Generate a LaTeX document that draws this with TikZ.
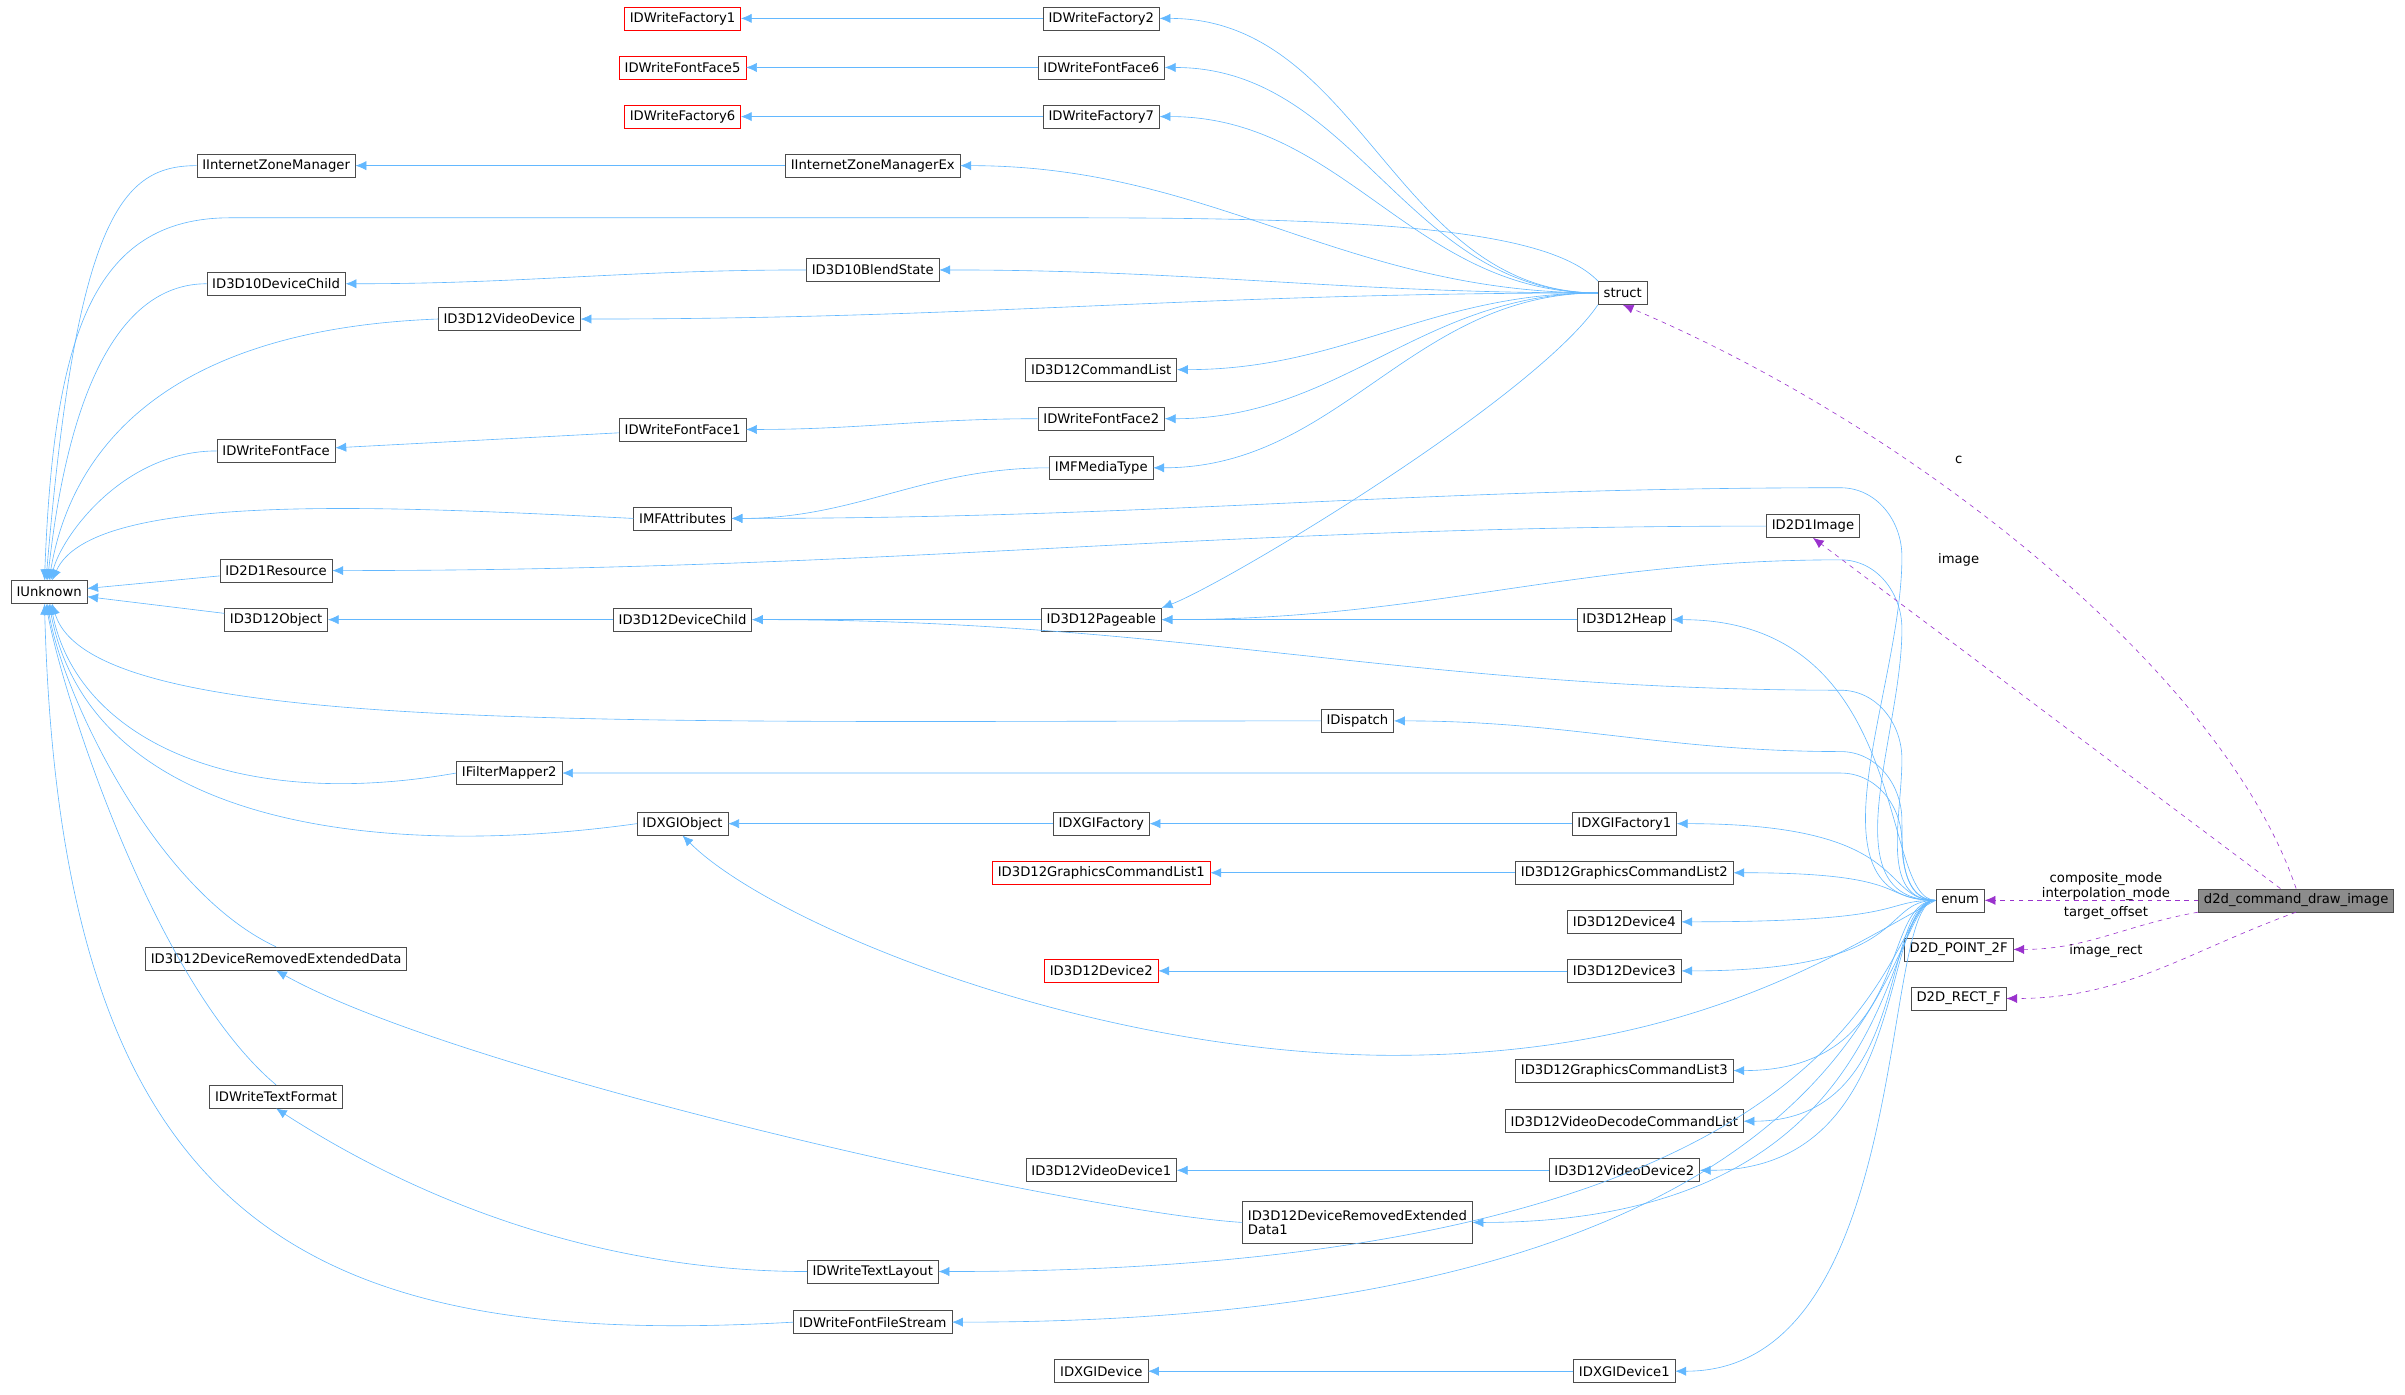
\documentclass[tikz,border=0pt]{standalone}
\usepackage{fontspec}
\setmainfont{DejaVu Sans}
\usetikzlibrary{arrows.meta}
\definecolor{eb}{HTML}{63B8FF}
\definecolor{pp}{HTML}{9A32CD}
\begin{document}
\begin{tikzpicture}[x=1pt,y=-1pt,
 box/.style={draw=black!70,fill=white,inner xsep=3.5pt,inner ysep=0pt,minimum height=15pt,font=\fontsize{8.6}{9}\selectfont},
 rbox/.style={box,draw=red},
 inh/.style={draw=eb,-{Latex[length=7pt,width=6pt]}},
 mem/.style={draw=pp,dashed,-{Latex[length=7pt,width=6pt]}},
 lab/.style={font=\fontsize{8.6}{9}\selectfont,align=center}]
\useasboundingbox (0,0) rectangle (1568,909);
\coordinate (cx) at (1248,0);
\node[rbox] (F1) at (445,12) {IDWriteFactory1};
\node[box] (F2) at (718,12) {IDWriteFactory2};
\node[rbox] (FF5) at (445,44) {IDWriteFontFace5};
\node[box] (FF6) at (718,44) {IDWriteFontFace6};
\node[rbox] (F6) at (445,76) {IDWriteFactory6};
\node[box] (F7) at (718,76) {IDWriteFactory7};
\node[box] (IZM) at (180,108) {IInternetZoneManager};
\node[box] (IZMX) at (569,108) {IInternetZoneManagerEx};
\node[box] (D10C) at (180,185) {ID3D10DeviceChild};
\node[box] (D10B) at (569,176) {ID3D10BlendState};
\node[box] (VD) at (332,208) {ID3D12VideoDevice};
\node[box] (struct) at (1058,191) {struct};
\node[box] (CL) at (718,241) {ID3D12CommandList};
\node[box] (FF2) at (718,273) {IDWriteFontFace2};
\node[box] (FF) at (180,294) {IDWriteFontFace};
\node[box] (FF1) at (445,280) {IDWriteFontFace1};
\node[box] (MT) at (718,305) {IMFMediaType};
\node[box] (MA) at (445,338) {IMFAttributes};
\node[box] (Img) at (1182,343) {ID2D1Image};
\node[box] (IU) at (32,386) {IUnknown};
\node[box] (Res) at (180,372) {ID2D1Resource};
\node[box] (Obj) at (180,404) {ID3D12Object};
\node[box] (DC) at (445,404) {ID3D12DeviceChild};
\node[box] (Pg) at (718,404) {ID3D12Pageable};
\node[box] (Heap) at (1059,404) {ID3D12Heap};
\node[box] (Disp) at (885,470) {IDispatch};
\node[box] (FM) at (332,504) {IFilterMapper2};
\node[box] (XO) at (445,537) {IDXGIObject};
\node[box] (XF) at (718,537) {IDXGIFactory};
\node[box] (XF1) at (1059,537) {IDXGIFactory1};
\node[rbox] (GCL1) at (718,569) {ID3D12GraphicsCommandList1};
\node[box] (GCL2) at (1059,569) {ID3D12GraphicsCommandList2};
\node[box] (enum) at (1278,587) {enum};
\node[box,fill=black!45] (d2d) at (1497,587) {d2d\_command\_draw\_image};
\node[box] (Dev4) at (1059,601) {ID3D12Device4};
\node[box] (P2F) at (1277,619) {D2D\_POINT\_2F};
\node[box] (DRED) at (180,625) {ID3D12DeviceRemovedExtendedData};
\node[box] (RF) at (1277,651) {D2D\_RECT\_F};
\node[rbox] (Dev2) at (718,633) {ID3D12Device2};
\node[box] (Dev3) at (1059,633) {ID3D12Device3};
\node[box] (GCL3) at (1059,698) {ID3D12GraphicsCommandList3};
\node[box] (VDCL) at (1059,731) {ID3D12VideoDecodeCommandList};
\node[box] (TF) at (180,715) {IDWriteTextFormat};
\node[box] (VD1) at (718,763) {ID3D12VideoDevice1};
\node[box] (VD2) at (1059,763) {ID3D12VideoDevice2};
\node[box,minimum height=27pt,align=left,font=\fontsize{8.6}{9.5}\selectfont] (DRED1) at (885,797) {ID3D12DeviceRemovedExtended\\Data1};
\node[box] (TL) at (569,829) {IDWriteTextLayout};
\node[box] (FS) at (569,862) {IDWriteFontFileStream};
\node[box] (XD) at (718,894) {IDXGIDevice};
\node[box] (XD1) at (1059,894) {IDXGIDevice1};
% simple straight inheritance
\foreach \d/\b in {F2/F1,FF6/FF5,F7/F6,IZMX/IZM,FF1/FF,Pg/DC,Heap/Pg,XF/XO,XF1/XF,GCL2/GCL1,Dev3/Dev2,VD2/VD1,XD1/XD,DC/Obj,Obj/IU,Res/IU}
  \draw[inh] (\d) -- (\b);
\draw[inh] (D10B.west) to[out=180,in=0] (D10C.east);
\draw[inh] (FF2.west) to[out=180,in=0] (FF1.east);
\draw[inh] (MT.west) to[out=180,in=0] (MA.east);
\draw[inh] (Img.west) to[out=180,in=0] (Res.east);
\draw[inh] (DRED1.west) .. controls (700,790) and (300,700) .. (DRED.south);
\draw[inh] (TL.west) .. controls (420,829) and (300,800) .. (TF.south);
% to IUnknown
\draw[inh] (IZM.west) .. controls (80,108) and (50,140) .. ([xshift=-2pt]IU.north);
\draw[inh] (D10C.west) .. controls (80,185) and (45,250) .. ([xshift=-1pt]IU.north);
\draw[inh] (VD.west) .. controls (100,215) and (45,300) .. (IU.north);
\draw[inh] (FF.west) .. controls (80,294) and (40,350) .. ([xshift=1pt]IU.north);
\draw[inh] (MA.west) .. controls (250,330) and (60,320) .. ([xshift=2pt]IU.north);
\draw[inh] (struct.north west) .. controls (1010,150) and (900,142) .. (700,142) -- (150,142) .. controls (60,142) and (35,220) .. ([xshift=-3pt]IU.north);
\draw[inh] (Disp.west) .. controls (400,470) and (60,480) .. ([xshift=2pt]IU.south);
\draw[inh] (FM.west) .. controls (150,530) and (50,480) .. ([xshift=1pt]IU.south);
\draw[inh] (XO.west) .. controls (250,560) and (60,540) .. (IU.south);
\draw[inh] (DRED.north) .. controls (100,580) and (40,450) .. ([xshift=-1pt]IU.south);
\draw[inh] (TF.north) .. controls (100,640) and (40,450) .. ([xshift=-2pt]IU.south);
\draw[inh] (FS.west) .. controls (200,880) and (40,800) .. ([xshift=-3pt]IU.south);
% struct bases
\foreach \b in {F2,FF6,F7,IZMX,D10B,VD,CL,FF2,MT}
  \draw[inh] (struct.west) to[out=180,in=0] (\b.east);
\draw[inh] (struct.south west) .. controls (1000,260) and (800,380) .. (Pg.north east);
% enum bases
\foreach \b in {Heap,XF1,GCL2,Dev4,Dev3,GCL3,VDCL,VD2,DRED1,TL,FS,XD1}
  \draw[inh] (enum.west) .. controls (1225,587) and (cx |- \b.east) .. (\b.east);
\foreach \b/\w in {MA/318,Pg/365,DC/450,Disp/490,FM/504}
  \draw[inh] (enum.west) to[out=180,in=-90] (1240,\w+45) to[out=90,in=0] (1200,\w) to[out=180,in=0] (\b.east);
\draw[inh] (enum.west) .. controls (1200,620) and (1100,690) .. (900,688) .. controls (700,685) and (500,600) .. (XO.south);
% members
\draw[mem] (d2d.north) .. controls (1450,440) and (1250,280) .. (struct.south);
\node[lab] at (1277,300) {c};
\draw[mem] (d2d) -- (Img.south);
\node[lab] at (1277,365) {image};
\draw[mem] (d2d.west) -- (enum.east);
\node[lab,font=\fontsize{8.6}{8}\selectfont] at (1373,578) {composite\_mode\\interpolation\_mode};
\draw[mem] (d2d.south west) to[out=190,in=0] (P2F.east);
\node[lab] at (1373,595) {target\_offset};
\draw[mem] (d2d.south) to[out=200,in=0] (RF.east);
\node[lab] at (1373,620) {image\_rect};
\end{tikzpicture}
\end{document}
